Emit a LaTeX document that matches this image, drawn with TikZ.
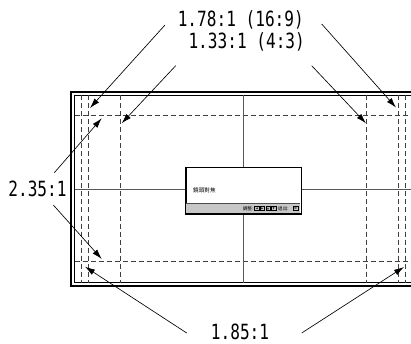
\documentclass[tikz,border=0pt]{standalone}
\usepackage{fontspec}
\usepackage{graphicx}
\usetikzlibrary{arrows.meta}
\newfontfamily\monofont{DejaVu Sans Mono}
\newfontfamily\cjkfont{Noto Sans CJK TC}
\newfontfamily\symfont{DejaVu Sans}
\newcommand\ratiolbl[1]{\scalebox{1}[1.3]{\fontsize{16.1pt}{16pt}\selectfont\monofont #1}}
\begin{document}
\begin{tikzpicture}[x=1pt,y=-1pt,
  lbl/.style={inner sep=0pt,anchor=base},
  ptr/.style={line width=0.65pt,-{Latex[length=10pt,width=6pt]}},
  guide/.style={line width=0.9pt,black!75,dash pattern=on 5pt off 3pt},
  cross/.style={line width=0.9pt,black!65},
  icon/.style={draw,line width=0.3pt,inner sep=0pt,minimum size=4.4pt},
  tiny/.style={inner sep=0pt,font=\cjkfont\fontsize{4.6pt}{5pt}\selectfont}]
\useasboundingbox (0,0) rectangle (411,344);
\clip (0,0) rectangle (411,344);
% frame
\draw[line width=1.8pt] (71,92) rectangle (418,286);
\draw[line width=0.8pt] (74.5,95.5) rectangle (412.5,282.5);
% guides
\foreach \x in {81.7,88,120.5,366.5,398.6,405}
  \draw[guide] (\x,95.5) -- (\x,282.5);
\foreach \y in {115.7,261.3}
  \draw[guide] (74.5,\y) -- (412.5,\y);
% crosshair
\coordinate (ct) at (243.3,95.5);
\coordinate (cb) at (243.3,282.5);
\coordinate (cl) at (74.5,189);
\coordinate (cr) at (412.5,189);
\node[draw,line width=1pt,fill=white,anchor=north west,inner sep=0pt,
      minimum width=115.2pt,minimum height=45.8pt] (osd) at (185.5,167.5) {};
\draw[cross] (ct) -- (osd.north -| ct);
\draw[cross] (osd.south -| cb) -- (cb);
\draw[cross] (cl) -- (osd.west |- cl);
\draw[cross] (osd.east |- cr) -- (cr);
% OSD bar
\fill[black!22] (186,203.5) rectangle (300.2,212.8);
\draw[line width=0.4pt,black!70] (186,203.5) -- (300.2,203.5);
\draw[line width=1pt] (osd.north west) rectangle (osd.south east);
\node[tiny,anchor=west,font=\cjkfont\fontsize{5.6pt}{6pt}\selectfont] (ttl) at (193,190) {鏡頭對焦};
\node[tiny,anchor=east] (adj) at (253.5,208.4) {調整:};
\foreach \i/\g in {0/◀,1/▶,2/▲,3/▼}
  \node[icon] (ic\i) at (256.8+\i*5.6,208.4) {\symfont\fontsize{2.6pt}{3pt}\selectfont \g};
\node[tiny,anchor=west] (ext) at (278,208.4) {退出:};
\node[icon] (ok) at (295.5,208.4) {\symfont\fontsize{3.4pt}{3pt}\selectfont ⊕};
% labels
\node[lbl] (l178) at (240.8,26.7) {\ratiolbl{1.78:1 (16:9)}};
\node[lbl] (l133) at (246.7,48.3) {\ratiolbl{1.33:1 (4:3)}};
\node[lbl] (l235) at (37.5,196.7) {\ratiolbl{2.35:1}};
\node[lbl] (l185) at (240,339.6) {\ratiolbl{1.85:1}};
% arrow ends
\coordinate (a1s) at (165,25);    \coordinate (a1t) at (90,108);
\coordinate (a2s) at (321.7,24);  \coordinate (a2t) at (396,107.5);
\coordinate (a3s) at (175.7,65.7);\coordinate (a3t) at (121.7,123.3);
\coordinate (a4s) at (311.7,65.7);\coordinate (a4t) at (366,123.3);
\coordinate (a5s) at (54.3,172.7);\coordinate (a5t) at (101.7,118.3);
\coordinate (a6s) at (53.3,205);  \coordinate (a6t) at (101.7,259);
\coordinate (a7s) at (186.7,333); \coordinate (a7t) at (85,266.7);
\coordinate (a8s) at (301.7,333); \coordinate (a8t) at (404,267);
\foreach \i in {1,...,8} \draw[ptr] (a\i s) -- (a\i t);
\end{tikzpicture}
\end{document}
